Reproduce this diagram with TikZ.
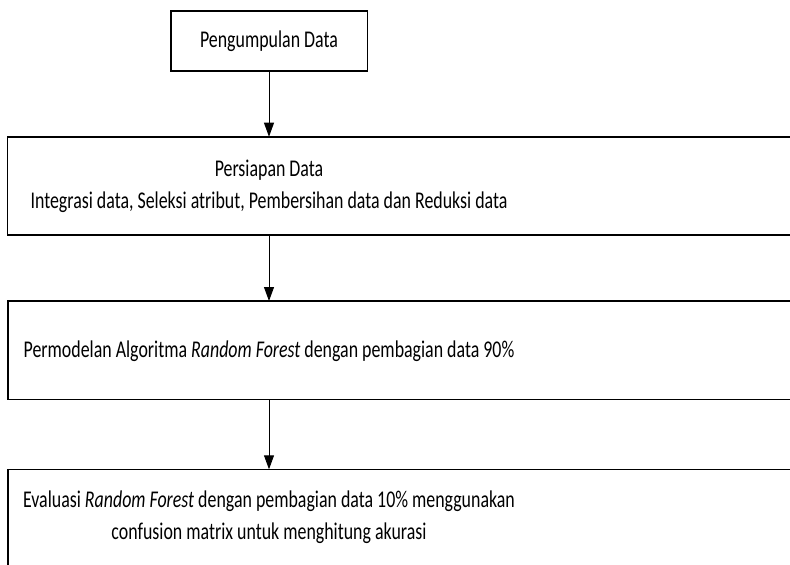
\documentclass[tikz,border=0pt]{standalone}
\usepackage{fontspec}
\setmainfont{Carlito}[FakeStretch=0.745]
\usetikzlibrary{arrows.meta}

\begin{document}
\begin{tikzpicture}[x=1pt,y=-1pt,>={Triangle[length=14pt,width=10pt]},
  kotak/.style={draw,line width=1.6pt,rectangle,inner sep=0pt,outer sep=0pt,anchor=north west},
  teks/.style={align=center,font=\fontsize{24}{32}\selectfont,inner sep=0pt},
  panah/.style={->,line width=0.9pt}]
  \useasboundingbox (0,0) rectangle (790,565);
  \clip (0,0) rectangle (790,565);

  % kotak-kotak tahapan
  \node[kotak,minimum width=196.6pt,minimum height=60pt] (kumpul) at (170.7,10.7) {};
  \node[kotak,minimum width=803pt,minimum height=98.3pt] (siap) at (7.3,136.7) {};
  \node[kotak,minimum width=803pt,minimum height=98.3pt] (model) at (8,301) {};
  \node[kotak,minimum width=803pt,minimum height=120pt] (evaluasi) at (8,469.3) {};

  % teks
  \node[teks] (tkumpul) at (269,41) {Pengumpulan Data};
  \node[teks] (tsiap) at (269,186) {Persiapan Data\\Integrasi data, Seleksi atribut, Pembersihan data dan Reduksi data};
  \node[teks] (tmodel) at (269,351) {Permodelan Algoritma \textit{Random Forest} dengan pembagian data 90\%};
  \node[teks] (tevaluasi) at (269,517) {Evaluasi \textit{Random Forest} dengan pembagian data 10\% menggunakan\\confusion matrix untuk menghitung akurasi};

  % panah
  \draw[panah] (kumpul.south) -- (kumpul.south |- siap.north);
  \draw[panah] (kumpul.south |- siap.south) -- (kumpul.south |- model.north);
  \draw[panah] (kumpul.south |- model.south) -- (kumpul.south |- evaluasi.north);
\end{tikzpicture}
\end{document}
